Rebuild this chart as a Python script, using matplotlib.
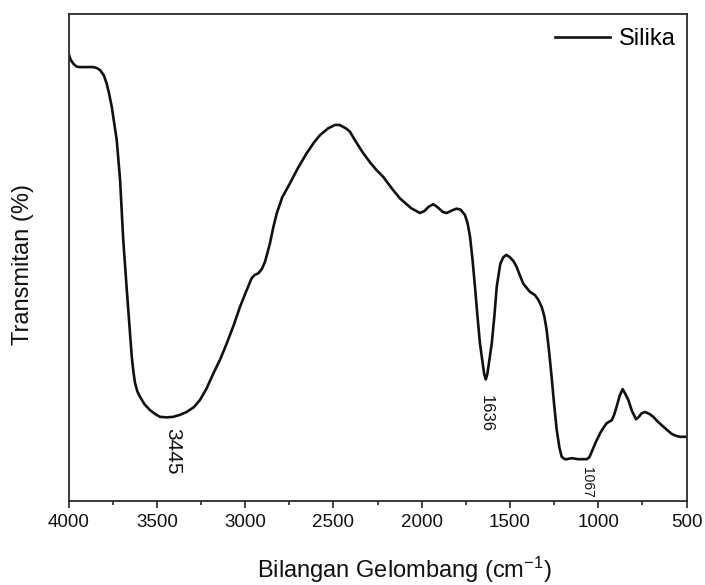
import matplotlib

matplotlib.use("Agg")
import matplotlib.pyplot as plt
from matplotlib.ticker import MultipleLocator

plt.rcParams.update({
    "font.family": ["Liberation Sans", "DejaVu Sans"],
    "mathtext.fontset": "custom",
    "mathtext.rm": "Liberation Sans",
    "mathtext.it": "Liberation Sans:italic",
})

# FTIR spectrum of silica
wavenumber = [
    4000, 3988, 3973, 3955, 3935, 3860, 3840, 3822, 3800, 3784,
    3770, 3755, 3727, 3708, 3690, 3670, 3642, 3632, 3623, 3610,
    3595, 3570, 3539, 3510, 3482, 3445, 3407, 3370, 3331, 3290,
    3255, 3220, 3180, 3140, 3104, 3065, 3029, 2995, 2963, 2945,
    2925, 2905, 2887, 2859, 2840, 2821, 2790, 2746, 2700, 2651,
    2610, 2576, 2530, 2491, 2465, 2444, 2425, 2406, 2380, 2349,
    2331, 2290, 2255, 2217, 2170, 2123, 2060, 2010, 1985, 1960,
    1934, 1910, 1880, 1858, 1830, 1802, 1780, 1755, 1740, 1726,
    1712, 1698, 1683, 1670, 1646, 1637, 1628, 1603, 1588, 1575,
    1555, 1538, 1520, 1500, 1480, 1462, 1445, 1425, 1387, 1358,
    1340, 1320, 1305, 1292, 1278, 1264, 1250, 1235, 1220, 1207,
    1190, 1179, 1150, 1113, 1065, 1050, 1037, 1015, 990, 970,
    952, 924, 910, 896, 878, 862, 848, 830, 810, 786,
    770, 755, 735, 710, 688, 665, 641, 610, 584, 560,
    537, 500,
]
transmittance = [
    91.9, 90.6, 89.8, 89.2, 89.1, 89.1, 88.9, 88.5, 87.4, 85.7,
    83.6, 80.9, 74.1, 65.9, 53.5, 43.3, 29.6, 26.3, 24.1, 22.4,
    21.3, 19.8, 18.6, 17.8, 17.2, 17.1, 17.2, 17.6, 18.2, 19.2,
    20.7, 22.9, 26.1, 29.1, 32.3, 36.0, 39.8, 42.9, 45.7, 46.4,
    46.7, 47.6, 49.1, 52.9, 56.2, 59.0, 62.3, 65.2, 68.4, 71.4,
    73.6, 75.1, 76.5, 77.2, 77.2, 76.8, 76.4, 75.8, 74.2, 72.4,
    71.4, 69.4, 67.9, 66.5, 64.2, 62.1, 60.1, 59.1, 59.5, 60.4,
    60.9, 60.3, 59.3, 59.1, 59.6, 60.0, 59.8, 58.7, 57.0, 54.2,
    49.5, 43.9, 37.5, 32.3, 26.0, 24.9, 26.0, 32.3, 38.0, 43.9,
    48.6, 50.0, 50.5, 50.0, 49.2, 48.0, 46.4, 44.6, 42.9, 42.2,
    41.3, 39.8, 37.8, 35.0, 30.5, 25.4, 19.8, 14.5, 10.9, 9.0,
    8.5, 8.5, 8.7, 8.5, 8.5, 8.9, 10.0, 11.9, 13.8, 15.0,
    15.9, 16.5, 17.6, 19.3, 21.6, 22.9, 22.0, 20.7, 18.5, 16.7,
    17.2, 17.9, 18.2, 17.8, 17.2, 16.3, 15.5, 14.5, 13.7, 13.3,
    13.1, 13.1,
]

peak_labels = ["3445", "1636", "1067"]
peak_x = [3411, 1636, 1064]
peak_y = [10.1, 17.9, 3.7]
peak_sizes = [15, 12, 10]

INK = "#111111"

fig = plt.figure(figsize=(7.05, 5.85), dpi=100)
ax = fig.add_axes([0.0972, 0.1444, 0.8766, 0.8316])

ax.plot(wavenumber, transmittance, color=INK, lw=1.9, solid_joinstyle="round",
        label="Silika")

for lab, x, y, s in zip(peak_labels, peak_x, peak_y, peak_sizes):
    ax.text(x, y, lab, rotation=270, ha="center", va="center", fontsize=s, color=INK)

ax.set_xlim(4000, 500)
ax.set_ylim(0, 100)
ax.set_yticks([])
ax.xaxis.set_major_locator(MultipleLocator(500))
ax.xaxis.set_minor_locator(MultipleLocator(250))
ax.tick_params(axis="x", which="major", direction="out", length=5, width=1.1,
               labelsize=13.5, pad=5, colors=INK)
ax.tick_params(axis="x", which="minor", direction="out", length=3, width=1.1, colors=INK)
for s in ax.spines.values():
    s.set_color("#2a2a2a")
    s.set_linewidth(1.3)

ax.legend(loc="center right", bbox_to_anchor=(0.982, 0.949), frameon=False,
          fontsize=17, handlelength=2.33, handletextpad=0.38, borderpad=0,
          borderaxespad=0)

fig.text(404 / 705, 1 - 570 / 585, "Bilangan Gelombang (cm$^{-1}$)",
         ha="center", va="center", fontsize=17, color=INK)
fig.text(23 / 705, 1 - 264.5 / 585, "Transmitan (%)", rotation=90,
         ha="center", va="center", fontsize=17, color=INK)

fig.savefig("out.png", dpi=100, facecolor="white")
